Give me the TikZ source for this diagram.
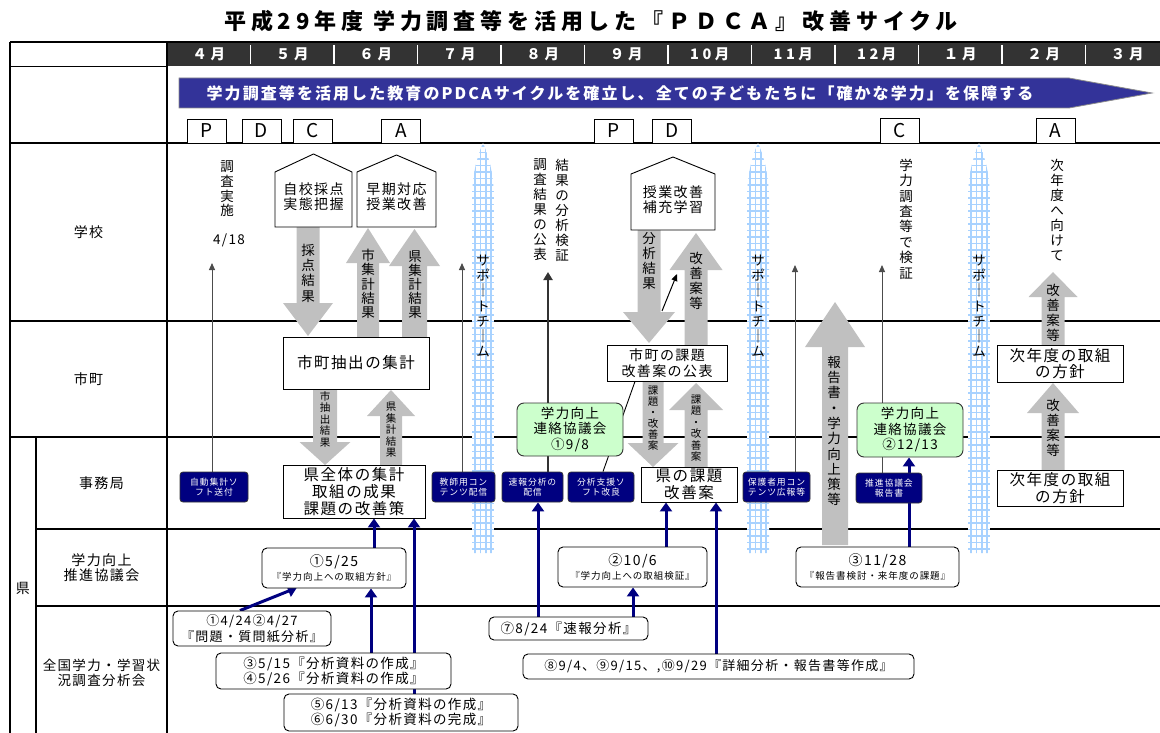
\documentclass[tikz,border=0pt]{standalone}
\usepackage{fontspec}
\setmainfont{Noto Sans CJK JP}[LetterSpace=10]
\usetikzlibrary{arrows.meta}
\definecolor{navyb}{HTML}{000080}
\definecolor{bannerc}{HTML}{333399}
\definecolor{garr}{HTML}{C0C0C0}
\definecolor{gfill}{HTML}{CCFFCC}
\definecolor{pgridc}{HTML}{A8D2FF}
\definecolor{mbar}{HTML}{333333}
\pgfdeclarelayer{tbl}\pgfdeclarelayer{pil}\pgfdeclarelayer{arr}
\pgfsetlayers{tbl,pil,arr,main}
\newcommand\fsz[2]{\fontsize{#1}{#2}\selectfont}
\newcommand\garrow[6]{\fill[garr] (#1-#5,#2) -- (#1-#5,#3) -- (#1-#6,#3) -- (#1,#4) -- (#1+#6,#3) -- (#1+#5,#3) -- (#1+#5,#2) -- cycle;}
\newcommand\pillar[1]{%
  \begin{scope}
    \clip (#1-11,553) -- (#1-11,198) .. controls (#1-11,172) and (#1-4,152) .. (#1,143) .. controls (#1+4,152) and (#1+11,172) .. (#1+11,198) -- (#1+11,553) -- cycle;
    \fill[white] (#1-12,140) rectangle (#1+12,556);
    \foreach \yy in {146,152.5,...,553} \draw[pgrid] (#1-12,\yy) -- (#1+12,\yy);
    \foreach \dx in {-8,-2.7,2.7,8} \draw[pgrid] (#1+\dx,140) -- (#1+\dx,556);
  \end{scope}}
\begin{document}
\begin{tikzpicture}[x=1pt,y=-1pt,
  tline/.style={line width=1.8pt, black},
  pgrid/.style={draw=pgridc, line width=1.6pt},
  vt/.style={align=center, inner sep=0pt},
  lab/.style={align=center, inner sep=0pt, font=\fsz{14}{15}},
  mlab/.style={text=white, inner sep=0pt, font=\bfseries\fsz{14.5}{15}\addfontfeature{LetterSpace=25}},
  pdca/.style={draw=black, line width=0.9pt, fill=white, minimum width=39, minimum height=24, inner sep=0pt, font=\fsz{19}{20}},
  hbody/.style={align=center, inner sep=0pt, font=\fsz{14}{15}},
  house/.style={draw=black, line width=0.9pt, fill=white, line join=miter},
  wbox/.style={draw=black, line width=0.9pt, fill=white, align=center, inner sep=1pt},
  nbox/.style={draw=black!80, line width=0.8pt, fill=navyb, rounded corners=3pt, text=white, align=center, font=\fsz{8.8}{10.5}, minimum height=30, inner sep=1pt},
  gbox/.style={draw=black!80, line width=0.9pt, fill=gfill, rounded corners=7pt, align=center, font=\fsz{13.5}{15.5}, inner sep=1pt},
  rbox/.style={draw=black, line width=0.9pt, fill=white, rounded corners=5pt, align=center, inner sep=1pt},
  thinarr/.style={draw=black!70, line width=1pt, -{Triangle[length=7pt,width=6pt]}},
  thickarr/.style={draw=black!80, line width=2.2pt, -{Triangle[length=8pt,width=9pt]}},
  navarr/.style={draw=navyb, line width=3pt, -{Triangle[length=9pt,width=12pt]}},
  blkarr/.style={draw=black, line width=1pt, -{Triangle[length=7pt,width=6pt]}}
]
\useasboundingbox (0,0) rectangle (1160,733);

% ---------- table ----------
\begin{pgfonlayer}{tbl}
\fill[mbar] (167,42) rectangle (1160,66);
\foreach \i in {1,...,11} \draw[white, line width=1.6pt] ({167+83.5*\i},45) -- ({167+83.5*\i},64);
\draw[tline] (10,42) -- (1160,42);
\draw[tline] (10,42) -- (10,733);
\draw[tline] (167,42) -- (167,733);
\draw[black, line width=0.6pt] (10,66) -- (167,66);
\draw[tline] (10,143) -- (1160,143);
\draw[tline] (10,321) -- (1160,321);
\draw[tline] (10,437) -- (1160,437);
\draw[tline] (36,437) -- (36,733);
\draw[tline] (36,529) -- (1160,529);
\draw[tline] (36,606) -- (1160,606);
\end{pgfonlayer}

\begin{pgfonlayer}{pil}
\pillar{483}
\pillar{758}
\pillar{979}
\end{pgfonlayer}

% ---------- title, months, banner ----------
\node[font=\bfseries\fsz{22}{23}\addfontfeature{LetterSpace=22}, inner sep=0pt] (title) at (591,21) {平成29年度 学力調査等を活用した『ＰＤＣＡ』改善サイクル};
\foreach \m [count=\i from 0] in {４月,５月,６月,７月,８月,９月,10月,11月,12月,１月,２月,３月}
  \node[mlab] (m\i) at ({208.75+83.5*\i},54.5) {\m};
\draw[fill=bannerc, draw=black!45, line width=0.8pt] (179,78) -- (1069,78) -- (1152,93) -- (1069,108) -- (179,108) -- cycle;
\node[text=white, font=\bfseries\fsz{16}{17}\addfontfeature{LetterSpace=13}, inner sep=0pt] (banner) at (620,93) {学力調査等を活用した教育のPDCAサイクルを確立し、全ての子どもたちに「確かな学力」を保障する};

% PDCA boxes
\node[pdca] (pP1) at (207,131) {P};
\node[pdca] (pD1) at (261.5,131) {D};
\node[pdca] (pC1) at (313,131) {C};
\node[pdca] (pA1) at (401,131) {A};
\node[pdca] (pP2) at (614,131) {P};
\node[pdca] (pD2) at (672,131) {D};
\node[pdca, minimum height=25] (pC2) at (900,130.5) {C};
\node[pdca, minimum height=25] (pA2) at (1055.5,130.5) {A};

% row labels
\node[lab] (lGakko) at (88.5,232) {学校};
\node[lab] (lShicho) at (88.5,379) {市町};
\node[lab] (lJimu) at (101.5,483) {事務局};
\node[lab] (lSuishin) at (101.5,568) {学力向上\\推進協議会};
\node[lab, font=\fsz{13.5}{15.5}] (lZenkoku) at (101.5,673) {全国学力・学習状\\況調査分析会};
\node[lab] (lKen) at (23,588) {県};

% ---------- houses ----------
\draw[house] (275,227) -- (275,172) -- (313.5,154) -- (352,172) -- (352,227) -- cycle;
\node[hbody, minimum width=77, minimum height=55] (h1) at (313.5,197) {自校採点\\実態把握};
\draw[house] (357,227) -- (357,172) -- (396.5,155) -- (436,172) -- (436,227) -- cycle;
\node[hbody, minimum width=79, minimum height=55] (h2) at (396.5,197) {早期対応\\授業改善};
\draw[house] (631,230) -- (631,174) -- (673,157) -- (715,174) -- (715,230) -- cycle;
\node[hbody, minimum width=84, minimum height=56] (h3) at (673,199.5) {授業改善\\補充学習};

% ---------- boxes ----------
\node[wbox, minimum width=146, minimum height=52, font=\fsz{15.5}{16}] (bShicho1) at (356,363) {市町抽出の集計};
\node[wbox, minimum width=142, minimum height=53, font=\fsz{15.5}{17}] (bKen1) at (354,491.5) {県全体の集計\\取組の成果\\課題の改善策};
\node[wbox, minimum width=120, minimum height=36, font=\fsz{14}{15.5}] (bShicho2) at (667,363) {市町の課題\\改善案の公表};
\node[wbox, minimum width=96, minimum height=35, font=\fsz{15.5}{16.5}] (bKen2) at (689,484.5) {県の課題\\改善案};
\node[wbox, minimum width=126, minimum height=37, font=\fsz{15.5}{16.5}] (bJinendo1) at (1060,363.5) {次年度の取組\\の方針};
\node[wbox, minimum width=126, minimum height=36, font=\fsz{15.5}{16.5}] (bJinendo2) at (1060,488) {次年度の取組\\の方針};

\node[gbox, minimum width=106, minimum height=53] (gRen1) at (570,429.5) {学力向上\\連絡協議会\\①9/8};
\node[gbox, minimum width=106, minimum height=54] (gRen2) at (910,430) {学力向上\\連絡協議会\\②12/13};

\node[nbox, minimum width=68] (nJidou) at (214,487) {自動集計ソ\\フト送付};
\node[nbox, minimum width=63] (nKyoshi) at (463.5,487) {教師用コン\\テンツ配信};
\node[nbox, minimum width=61] (nSokuho) at (532.5,487) {速報分析の\\配信};
\node[nbox, minimum width=66] (nBunseki) at (601,487) {分析支援ソ\\フト改良};
\node[nbox, minimum width=67] (nHogosha) at (776.5,487) {保護者用コン\\テンツ広報等};
\node[nbox, minimum width=66] (nSuishin) at (889,488) {推進協議会\\報告書};

\node[rbox, minimum width=144, minimum height=40, font=\fsz{14}{13.5}] (r525) at (334,568) {①5/25\\{\fsz{9.5}{11}『学力向上への取組方針』}};
\node[rbox, minimum width=149, minimum height=40, font=\fsz{14}{13.5}] (r1006) at (632.5,567) {②10/6\\{\fsz{9.5}{11}『学力向上への取組検証』}};
\node[rbox, minimum width=163, minimum height=40, font=\fsz{14}{13.5}] (r1128) at (877.5,567) {③11/28\\{\fsz{9.5}{11}『報告書検討・来年度の課題』}};
\node[rbox, minimum width=158, minimum height=35, font=\fsz{13}{15.5}] (r424) at (252,628.5) {①4/24②4/27\\『問題・質問紙分析』};
\node[rbox, minimum width=235, minimum height=36, font=\fsz{13.5}{15}] (r515) at (333.5,671) {③5/15『分析資料の作成』\\④5/26『分析資料の作成』};
\node[rbox, minimum width=234, minimum height=37, font=\fsz{13.5}{15}] (r613) at (401,712.5) {⑤6/13『分析資料の作成』\\⑥6/30『分析資料の完成』};
\node[rbox, minimum width=159, minimum height=23, font=\fsz{13.5}{14}] (r824) at (568.5,628.5) {⑦8/24『速報分析』};
\node[rbox, minimum width=391, minimum height=25, font=\fsz{13}{14}] (r94) at (718.5,666.5) {⑧9/4、⑨9/15、,⑩9/29『詳細分析・報告書等作成』};

% ---------- coordinates ----------
\coordinate (tip1) at (212,263);
\coordinate (tip2) at (462,263);
\coordinate (tip3) at (795,265);
\coordinate (tip4) at (882,265);
\coordinate (tipD) at (548,272);
\coordinate (sa) at (662,311);
\coordinate (sb) at (677,274);
\coordinate (L1) at (635,0);
\coordinate (L2) at (603,0);
\coordinate (X374) at (374,0);
\coordinate (X414) at (414,0);
\coordinate (X371) at (371,0);
\coordinate (X240) at (240,0);
\coordinate (X295) at (295,0);
\coordinate (X538) at (538,0);
\coordinate (X633) at (633,0);
\coordinate (X666) at (666,0);
\coordinate (X716) at (716,0);
\coordinate (X909) at (909,0);

% ---------- arrows ----------
\begin{pgfonlayer}{arr}
\garrow{308}{227}{303}{336}{11.5}{25}
\garrow{368}{337}{263}{228}{11}{22}
\garrow{414.5}{337}{266}{229}{12.5}{25.5}
\garrow{325}{389}{442}{465}{12}{25.5}
\garrow{391}{465}{416}{390}{11}{24}
\garrow{649}{230}{312}{343}{11.5}{26}
\garrow{696}{345}{270}{233}{11.5}{26.5}
\garrow{653}{381}{443}{467}{10.5}{25.5}
\garrow{696}{467}{410}{383}{11.5}{27}
\garrow{835}{545}{347}{302}{13}{30}
\garrow{1053}{345}{297}{272}{11.5}{24.5}
\garrow{1053}{470}{413}{383}{11.5}{26}

\draw[thinarr] (nJidou.north -| tip1) -- (tip1);
\draw[thinarr] (nKyoshi.north -| tip2) -- (tip2);
\draw[thinarr] (nHogosha.north -| tip3) -- (tip3);
\draw[thinarr] (nSuishin.north -| tip4) -- (tip4);
\draw[thickarr] (nSokuho.north -| tipD) -- (tipD);
\draw[blkarr] (sa) -- (sb);
\draw[black, line width=0.9pt] (bShicho2.south -| L1) -- (nBunseki.north -| L2);

\draw[navarr] (r525.north -| X374) -- (bKen1.south -| X374);
\draw[navarr] (r613.north -| X414) -- (bKen1.south -| X414);
\draw[navarr] (r515.north -| X371) -- (r525.south -| X371);
\draw[navarr, shorten >=-2pt] (r424.north -| X240) -- (r525.south -| X295);
\draw[navarr] (r824.north -| X538) -- (nSokuho.south -| X538);
\draw[navarr] (r824.north -| X633) -- (r1006.south -| X633);
\draw[navarr] (r1006.north -| X666) -- (bKen2.south -| X666);
\draw[navarr] (r94.north -| X716) -- (bKen2.south -| X716);
\draw[navarr] (r1128.north -| X909) -- (gRen2.south -| X909);
\end{pgfonlayer}

% ---------- vertical texts ----------
\node[vt, font=\fsz{13.5}{14.7}] (vChosa) at (227,189) {調\\査\\実\\施};
\node[vt, font=\fsz{13.5}{14}] (v418) at (229,240) {4/18};
\node[vt, font=\fsz{13.5}{15.3}] (vSaiten) at (308,273) {採\\点\\結\\果};
\node[vt, font=\fsz{13.5}{14.3}] (vShiShu) at (368,284) {市\\集\\計\\結\\果};
\node[vt, font=\fsz{13.5}{14}] (vKenShu) at (415,285) {県\\集\\計\\結\\果};
\node[vt, font=\fsz{10.5}{11.5}] (vShiChu) at (325,419) {市\\抽\\出\\結\\果};
\node[vt, font=\fsz{10.5}{11.5}] (vKenShu2) at (391,430) {県\\集\\計\\結\\果};
\node[vt, font=\fsz{13.5}{15}] (vKohyo) at (540,210) {調\\査\\結\\果\\の\\公\\表};
\node[vt, font=\fsz{13.5}{15}] (vKensho) at (562,210) {結\\果\\の\\分\\析\\検\\証};
\node[vt, font=\fsz{13.5}{15}] (vBunseki) at (649,261) {分\\析\\結\\果};
\node[vt, font=\fsz{13.5}{15}] (vKaizen1) at (696,281) {改\\善\\案\\等};
\node[vt, font=\fsz{10.5}{11}] (vKadai1) at (653,418) {課\\題\\・\\改\\善\\案};
\node[vt, font=\fsz{10.5}{11.5}] (vKadai2) at (696,428) {課\\題\\・\\改\\善\\案};
\node[vt, font=\fsz{13.5}{15.3}] (vHokoku) at (834,431) {報\\告\\書\\・\\学\\力\\向\\上\\策\\等};
\node[vt, font=\fsz{13.5}{15.4}] (vKensho2) at (906,219) {学\\力\\調\\査\\等\\で\\検\\証};
\node[vt, font=\fsz{13.5}{15}] (vJinendo) at (1057,210) {次\\年\\度\\へ\\向\\け\\て};
\node[vt, font=\fsz{13.5}{15}] (vKaizen2) at (1053,313) {改\\善\\案\\等};
\node[vt, font=\fsz{13.5}{15}] (vKaizen3) at (1053,428) {改\\善\\案\\等};
\node[vt, font=\fsz{13.5}{15.3}] (sup1) at (483,306) {サ\\ポ\\｜\\ト\\チ\\｜\\ム};
\node[vt, font=\fsz{13.5}{15.3}] (sup2) at (758,306) {サ\\ポ\\｜\\ト\\チ\\｜\\ム};
\node[vt, font=\fsz{13.5}{15.3}] (sup3) at (979,306) {サ\\ポ\\｜\\ト\\チ\\｜\\ム};
\end{tikzpicture}
\end{document}
